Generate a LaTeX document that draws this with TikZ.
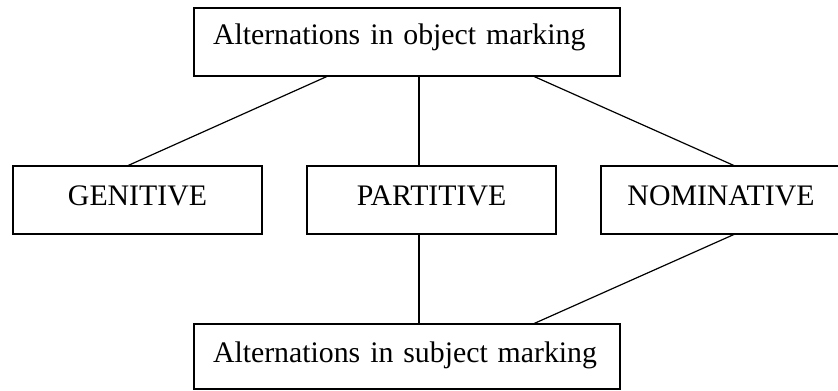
\documentclass[tikz,border=0pt]{standalone}
\usepackage{fontspec}
\setmainfont{Liberation Serif}
\usetikzlibrary{calc}

\begin{document}
\begin{tikzpicture}[x=0.5pt, y=-0.5pt, outer sep=0pt, font=\fontsize{14.9}{18}\selectfont,
  box/.style={draw, line width=0.6pt, inner sep=0pt},
  wide/.style={box, anchor=north west, text width=194pt, inner xsep=9.5pt, align=left},
  case/.style={box, anchor=north west, text height=19.5pt, text depth=14.5pt, align=center},
  link/.style={line width=0.6pt}]

\useasboundingbox (0,0) rectangle (838,390);

\node[wide, text height=18.5pt, text depth=15.5pt] at (194, 8) (obj) {Alternations in object marking};

\node[case, minimum width=124.5pt] at (13, 166) (gen) {GENITIVE};
\node[case, minimum width=124.5pt] at (307, 166) (part) {PARTITIVE};
\node[case, minimum width=120pt] at (601, 166) (nom) {NOMINATIVE};

\node[wide, text height=19pt, text depth=13.5pt] at (194, 324) (subj) {Alternations in subject marking};

\draw [link] ($(obj.south west)+(134,0)$) -- ($(gen.north west)+(114,0)$);
\draw [link] ($(obj.south west)+(225,0)$) -- ($(part.north west)+(112,0)$);
\draw [link] ($(obj.south west)+(339,0)$) -- ($(nom.north west)+(134,0)$);

\draw [link] ($(part.south west)+(112,0)$) -- ($(subj.north west)+(225,0)$);
\draw [link] ($(nom.south west)+(134,0)$) -- ($(subj.north west)+(339,0)$);

\end{tikzpicture}
\end{document}
